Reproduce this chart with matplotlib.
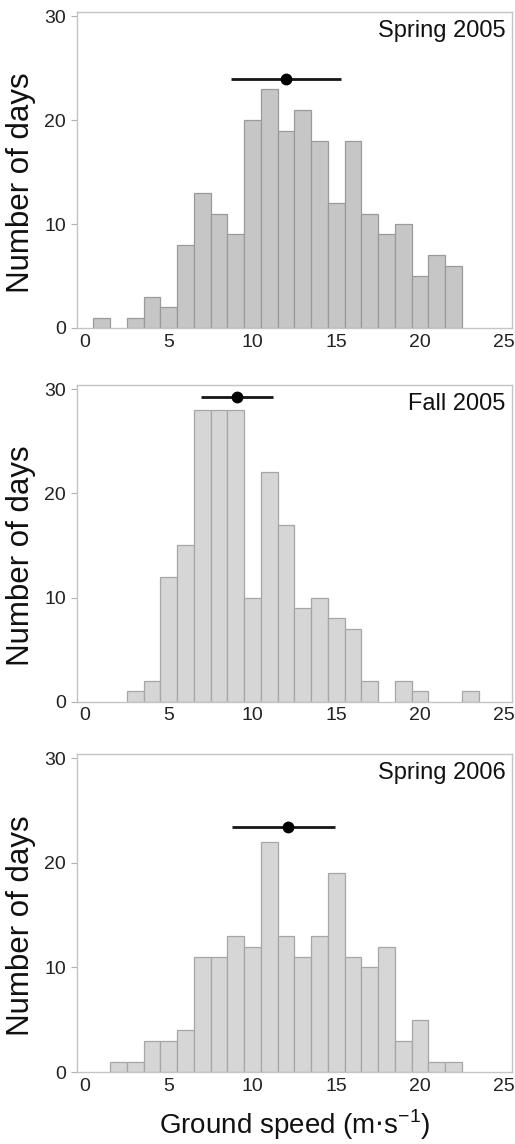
import matplotlib
matplotlib.use("Agg")
import matplotlib.pyplot as plt
import numpy as np

plt.rcParams['font.family'] = ['Liberation Sans', 'DejaVu Sans']

# ground speed bins (m/s), centred on integers
speed_bins = list(range(1, 24))

spring05 = [1, 0, 1, 3, 2, 8, 13, 11, 9, 20, 23, 19, 21, 18, 12, 18, 11, 9, 10, 5, 7, 6, 0]
fall05 = [0, 0, 1, 2, 12, 15, 28, 28, 28, 10, 22, 17, 9, 10, 8, 7, 2, 0, 2, 1, 0, 0, 1]
spring06 = [0, 1, 1, 3, 3, 4, 11, 11, 13, 12, 22, 13, 11, 13, 19, 11, 10, 12, 3, 5, 1, 1, 0]

titles = ['Spring 2005', 'Fall 2005', 'Spring 2006']
means = [12.0, 9.1, 12.1]
err_lo = [8.7, 6.9, 8.8]
err_hi = [15.3, 11.25, 14.9]
mean_y = [24.0, 29.2, 23.4]

faces = ['#c6c6c6', '#d6d6d6', '#d6d6d6']
edges = ['#9a9a9a', '#a6a6a6', '#a6a6a6']

fig = plt.figure(figsize=(5.15, 11.44), dpi=100)
boxes = [[0.1495, 0.7133, 0.845, 0.2762],
         [0.1495, 0.3866, 0.845, 0.2769],
         [0.1495, 0.0629, 0.845, 0.2780]]

for i, counts in enumerate([spring05, fall05, spring06]):
    ax = fig.add_axes(boxes[i])
    # empty bins are not drawn
    xs = [b for b, c in zip(speed_bins, counts) if c > 0]
    hs = [c for c in counts if c > 0]
    ax.bar(xs, hs, width=1.0, color=faces[i], edgecolor=edges[i],
           linewidth=0.9, zorder=2)
    ax.plot([err_lo[i], err_hi[i]], [mean_y[i], mean_y[i]], color='#151515',
            lw=2.0, solid_capstyle='butt', zorder=3)
    ax.plot(means[i], mean_y[i], 'o', color='#000000', ms=7.5, zorder=4)
    ax.set_xlim(-0.48, 25.5)
    ax.set_ylim(0, 30.4)
    ax.set_xticks([0, 5, 10, 15, 20, 25])
    ax.set_yticks([0, 10, 20, 30])
    ax.tick_params(axis='x', length=0, pad=4, labelsize=14, colors='#222222')
    ax.tick_params(axis='y', length=4, width=0.8, color='#b0b0b0', pad=4,
                   labelsize=14, labelcolor='#222222')
    for sp in ax.spines.values():
        sp.set_color('#c4c4c4')
        sp.set_linewidth(1.0)
    ax.text(0.985, 0.975, titles[i], transform=ax.transAxes, ha='right',
            va='top', fontsize=17, color='#111111')
    ax.set_ylabel('Number of days', fontsize=22.5, color='#111111')
    ax.yaxis.set_label_coords(-0.095, 0.46)
    if i == 2:
        ax.set_xlabel('Ground speed (m$\\cdot$s$^{\\mathregular{-1}}$)',
                      fontsize=20, color='#111111', labelpad=9)

fig.savefig('out.png', dpi=100)
